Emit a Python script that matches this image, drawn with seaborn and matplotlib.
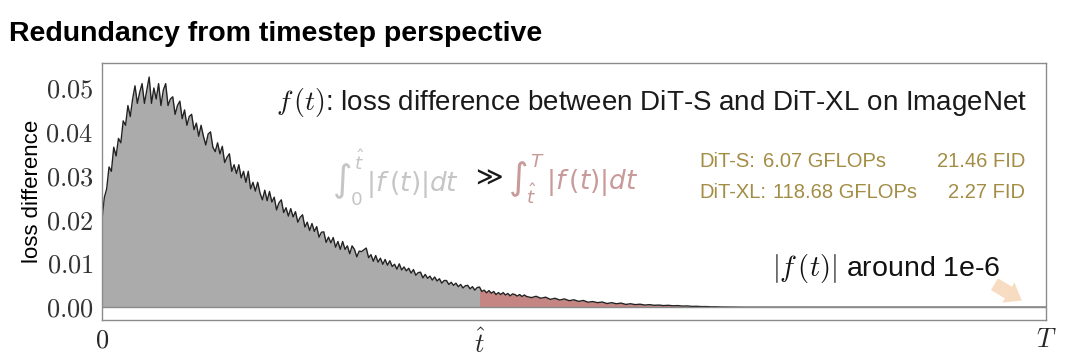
import numpy as np
import pandas as pd
import matplotlib
matplotlib.use("Agg")
import matplotlib.pyplot as plt
import seaborn as sns

# loss difference between DiT-S and DiT-XL, in units of 1e-3
t_fine = np.arange(0, 452.5, 2.5)
loss_fine = [
    20.0, 25.0, 27.0, 32.0, 31.0, 36.5, 34.5, 38.5, 37.5, 42.5,
    41.5, 46.0, 43.5, 47.5, 50.5, 46.5, 49.0, 51.0, 46.5, 49.5,
    52.5, 46.5, 50.0, 47.5, 51.0, 46.0, 49.5, 51.0, 46.0, 47.5,
    48.0, 44.0, 46.0, 47.0, 43.0, 45.0, 41.5, 43.5, 44.0, 40.5,
    42.0, 39.0, 41.5, 39.0, 37.0, 39.5, 40.0, 36.5, 35.5, 37.5,
    35.0, 36.7, 33.0, 34.2, 35.0, 31.0, 32.5, 30.5, 32.5, 29.5,
    31.0, 28.5, 31.0, 27.0, 28.5, 26.5, 28.5, 26.0, 24.5, 26.7,
    24.3, 26.4, 24.0, 25.1, 22.2, 23.8, 24.5, 21.6, 22.7, 20.8,
    22.5, 20.6, 21.8, 19.4, 20.5, 21.1, 18.3, 19.4, 17.5, 19.1,
    17.3, 18.4, 16.0, 17.1, 17.2, 14.8, 16.0, 14.7, 15.9, 13.7,
    15.0, 13.2, 15.0, 13.2, 14.0, 12.2, 14.0, 13.2, 11.5, 12.8,
    12.7, 13.1, 13.5, 11.3, 12.0, 10.5, 11.8, 10.3, 11.2, 9.8,
    10.9, 9.6, 10.6, 9.3, 9.8, 8.7, 9.9, 8.5, 9.2, 8.3,
    8.9, 7.8, 8.6, 7.3, 7.9, 8.0, 6.7, 7.5, 6.6, 7.1,
    6.2, 6.9, 6.0, 6.5, 5.5, 6.1, 6.1, 5.2, 5.7, 5.0,
    5.5, 4.7, 5.2, 4.4, 4.9, 5.0, 4.2, 4.7, 3.9, 4.5,
    4.6, 3.6, 3.9, 3.3, 3.8, 3.2, 3.6, 2.9, 3.35, 2.9,
    3.35, 2.8, 3.15, 2.6, 3.05, 2.9, 2.55, 2.9, 2.45, 2.8, 2.45,
]
t_coarse = np.arange(455, 685, 5)
loss_coarse = [
    2.2, 2.5, 2.05, 2.3, 1.8, 2.05, 1.65, 1.9, 1.5, 1.7,
    1.35, 1.55, 1.15, 1.3, 1.05, 1.2, 0.85, 1.05, 0.8, 0.95,
    0.65, 0.8, 0.6, 0.7, 0.5, 0.6, 0.45, 0.5, 0.38, 0.45,
    0.33, 0.38, 0.27, 0.3, 0.2, 0.22, 0.15, 0.16, 0.1, 0.1,
    0.06, 0.05, 0.03, 0.02, 0.01, 0.005,
]
t_tail = [700, 800, 900, 1000]
loss_tail = [0.001, 0.001, 0.001, 0.001]

t_hat = 400
T_end = 1000

df = pd.DataFrame({
    "t": np.concatenate([t_fine, t_coarse, t_tail]),
    "loss": np.concatenate([loss_fine, loss_coarse, loss_tail]) / 1000.0,
})

sns.set_style("white")
plt.rcParams["font.family"] = ["Liberation Sans", "DejaVu Sans"]
plt.rcParams["mathtext.fontset"] = "cm"

fig = plt.figure(figsize=(10.8, 3.63), dpi=100)
ax = fig.add_axes([0.0944, 0.1185, 0.874, 0.7079])

early = df["t"] <= t_hat
late = df["t"] >= t_hat
ax.fill_between(df["t"], 0, df["loss"], where=early, color="#ababab", lw=0)
ax.fill_between(df["t"], 0, df["loss"], where=late, color="#c48583", lw=0)
sns.lineplot(data=df, x="t", y="loss", ax=ax, color="#222222", lw=1.0)
ax.axhline(0, color="#8a8a8a", lw=1)

ax.set_xlim(0, T_end)
ax.set_ylim(-0.0029, 0.0557)
ax.set_xticks([0, t_hat, T_end])
ax.set_xticklabels(["$0$", r"$\hat{t}$", "$T$"], fontsize=19)
yt = [0.0, 0.01, 0.02, 0.03, 0.04, 0.05]
ax.set_yticks(yt)
ax.set_yticklabels([f"${v:.2f}$" for v in yt], fontsize=19, color="#333333")
ax.tick_params(axis="both", direction="out", length=4, width=1, color="#888888", pad=2)
ax.set_xlabel("")
ax.set_ylabel("loss difference", fontsize=16, labelpad=2, color="black")
for s in ax.spines.values():
    s.set_color("#8c8c8c")
    s.set_linewidth(1)

fig.text(0.008, 0.905, "Redundancy from timestep perspective", fontsize=20.5,
         fontweight="bold", ha="left", va="center", color="black")

ax.text(0.184, 0.845, r"$f\,(t)$: loss difference between DiT-S and DiT-XL on ImageNet",
        transform=ax.transAxes, fontsize=20, ha="left", va="center", color="#1a1a1a")

ax.text(0.244, 0.553, r"$\int_0^{\hat{t}}\,|f\,(t)|dt$", transform=ax.transAxes,
        fontsize=19, color="#c6c6c6", ha="left", va="center", math_fontfamily="dejavusans")
ax.text(0.390, 0.553, r"$\gg$", transform=ax.transAxes, fontweight="bold",
        fontsize=19, color="#1a1a1a", ha="left", va="center", math_fontfamily="dejavusans")
ax.text(0.430, 0.553, r"$\int_{\hat{t}}^{T}\,|f\,(t)|dt$", transform=ax.transAxes,
        fontsize=19, color="#c99a9a", ha="left", va="center", math_fontfamily="dejavusans")

gold = "#a38d45"
rows = [("DiT-S:", "6.07 GFLOPs", "21.46 FID"), ("DiT-XL:", "118.68 GFLOPs", "2.27 FID")]
flops_x = [0.700, 0.711]
for i, (name, flops, fid) in enumerate(rows):
    y = 0.618 - i * 0.12
    ax.text(0.633, y, name, transform=ax.transAxes, fontsize=14.5, color=gold, va="center")
    ax.text(flops_x[i], y, flops, transform=ax.transAxes, fontsize=14.5,
            color=gold, va="center", ha="left")
    ax.text(0.978, y, fid, transform=ax.transAxes, fontsize=14.5, color=gold, va="center", ha="right")

ax.text(0.71, 0.202, r"$|f\,(t)|$ around 1e-6", transform=ax.transAxes,
        fontsize=20.5, color="#111111", ha="left", va="center")
ax.annotate("", xy=(0.977, 0.07), xytext=(0.943, 0.145), xycoords="axes fraction",
            arrowprops=dict(arrowstyle="simple,tail_width=0.7,head_width=1.2,head_length=0.8",
                            color="#f8dcc2", lw=0, mutation_scale=14))

fig.savefig("out.png", dpi=100)
